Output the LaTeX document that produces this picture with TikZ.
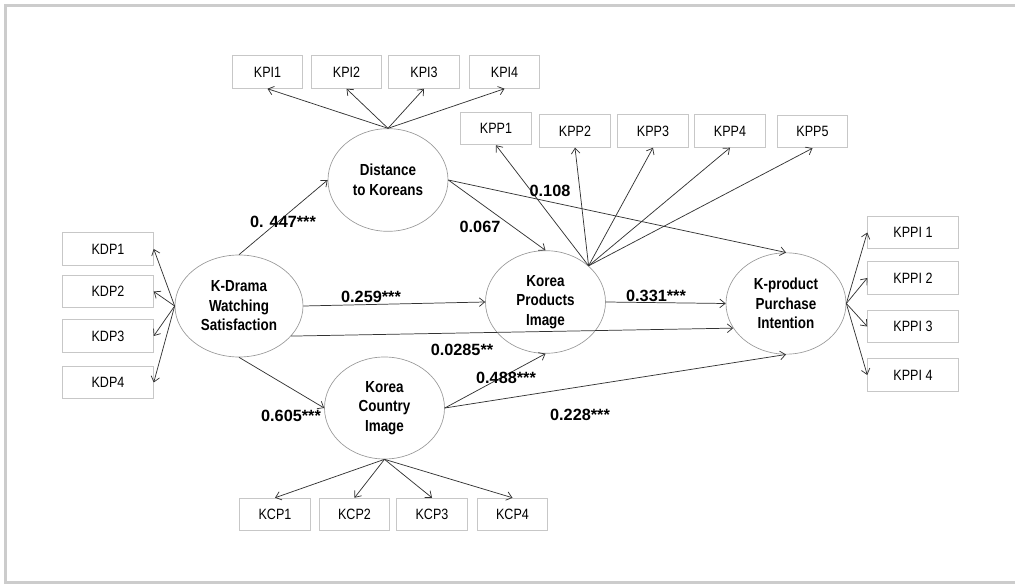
\documentclass[tikz,border=0pt]{standalone}
\usepackage{fontspec}
\setmainfont{Liberation Sans}[FakeStretch=0.84]
\newfontfamily\coeffont{Liberation Sans}
\usepackage{tikz}
\usetikzlibrary{shapes.geometric, arrows.meta}

\begin{document}
\begin{tikzpicture}[x=0.75pt, y=-0.75pt,
        latent/.style={ellipse, draw=black!40, line width=0.5pt, minimum width=90pt, minimum height=77pt, inner sep=0pt, align=center, font=\fontsize{12}{14.6}\selectfont\bfseries},
        indic/.style={rectangle, draw=black!22, line width=0.6pt, minimum width=53pt, minimum height=24.5pt, inner sep=0pt, font=\fontsize{11.2}{13}\selectfont},
        wide/.style={minimum width=68pt},
        coef/.style={font=\coeffont\fontsize{12.2}{13}\selectfont\bfseries, inner sep=1pt},
        link/.style={-{Straight Barb[length=4pt, width=6.5pt]}, draw=black!80, line width=0.55pt}]
        \useasboundingbox (0, 0) rectangle (1015, 584);
        \draw[black!20, line width=2.3pt] (1016, 5.5) -- (5.5, 5.5) -- (5.5, 583) -- (1016, 583);

        \node[latent] (dist) at (388, 180) {Distance\\to Koreans};
        \node[latent, minimum width=96pt, minimum height=76.5pt] (drama) at (239, 306) {K-Drama\\Watching\\Satisfaction};
        \node[latent] (prod) at (545.5, 302) {Korea\\Products\\Image};
        \node[latent, minimum height=76.5pt] (country) at (384.5, 408) {Korea\\Country\\Image};
        \node[latent, minimum height=76pt] (purch) at (786, 303.5) {K-product\\Purchase\\Intention};

        \node[indic] (kpi1) at (267.5, 72) {KPI1};
        \node[indic] (kpi2) at (346.5, 72) {KPI2};
        \node[indic] (kpi3) at (424, 72) {KPI3};
        \node[indic] (kpi4) at (504.5, 72) {KPI4};

        \node[indic] (kpp1) at (496, 128.5) {KPP1};
        \node[indic] (kpp2) at (575, 131) {KPP2};
        \node[indic] (kpp3) at (653, 131) {KPP3};
        \node[indic] (kpp4) at (730, 131) {KPP4};
        \node[indic] (kpp5) at (812.5, 131.5) {KPP5};

        \node[indic, wide] (kdp1) at (108, 249) {KDP1};
        \node[indic, wide] (kdp2) at (108, 291.5) {KDP2};
        \node[indic, wide] (kdp3) at (108, 336) {KDP3};
        \node[indic, wide] (kdp4) at (108, 382.5) {KDP4};

        \node[indic] (kcp1) at (275, 514.5) {KCP1};
        \node[indic] (kcp2) at (354.5, 514.5) {KCP2};
        \node[indic] (kcp3) at (432, 514.5) {KCP3};
        \node[indic] (kcp4) at (512.5, 514.5) {KCP4};

        \node[indic, wide] (kppi1) at (913, 232.5) {KPPI 1};
        \node[indic, wide] (kppi2) at (913, 278) {KPPI 2};
        \node[indic, wide] (kppi3) at (913, 326.5) {KPPI 3};
        \node[indic, wide] (kppi4) at (913, 375) {KPPI 4};

        \draw[link] (dist.north) -- (kpi1.south);
        \draw[link] (dist.north) -- (kpi2.south);
        \draw[link] (dist.north) -- (kpi3.south);
        \draw[link] (dist.north) -- (kpi4.south);

        \coordinate (hub) at (prod.40);
        \draw[link] (hub) -- (kpp1.south);
        \draw[link] (hub) -- (kpp2.south);
        \draw[link] (hub) -- (kpp3.south);
        \draw[link] (hub) -- (kpp4.south);
        \draw[link] (hub) -- (kpp5.south);

        \draw[link] (drama.west) -- (kdp1.east);
        \draw[link] (drama.west) -- (kdp2.east);
        \draw[link] (drama.west) -- (kdp3.east);
        \draw[link] (drama.west) -- (kdp4.east);

        \draw[link] (country.south) -- (kcp1.north);
        \draw[link] (country.south) -- (kcp2.north);
        \draw[link] (country.south) -- (kcp3.north);
        \draw[link] (country.south) -- (kcp4.north);

        \draw[link] (purch.east) -- (kppi1.west);
        \draw[link] (purch.east) -- (kppi2.west);
        \draw[link] (purch.east) -- (kppi3.west);
        \draw[link] (purch.east) -- (kppi4.west);

        \draw[link] (drama.north) -- (dist.west);
        \draw[link] (drama.east) -- (prod.west);
        \draw[link] (drama.-30) -- (purch.205);
        \draw[link] (drama.south) -- (country.west);
        \draw[link] (dist.east) -- (purch.north);
        \draw[link] (dist.east) -- (prod.north);
        \draw[link] (prod.east) -- (purch.west);
        \draw[link] (country.east) -- (prod.south);
        \draw[link] (country.east) -- (purch.south);

        \node[coef] (c1) at (283, 222) {0. 447***};
        \node[coef] (c2) at (371, 297) {0.259***};
        \node[coef] (c3) at (480, 227) {0.067};
        \node[coef] (c4) at (550, 191) {0.108};
        \node[coef] (c5) at (656, 296) {0.331***};
        \node[coef] (c6) at (462, 350) {0.0285**};
        \node[coef] (c7) at (506, 378) {0.488***};
        \node[coef] (c8) at (291, 416) {0.605***};
        \node[coef] (c9) at (580, 415) {0.228***};
\end{tikzpicture}
\end{document}
